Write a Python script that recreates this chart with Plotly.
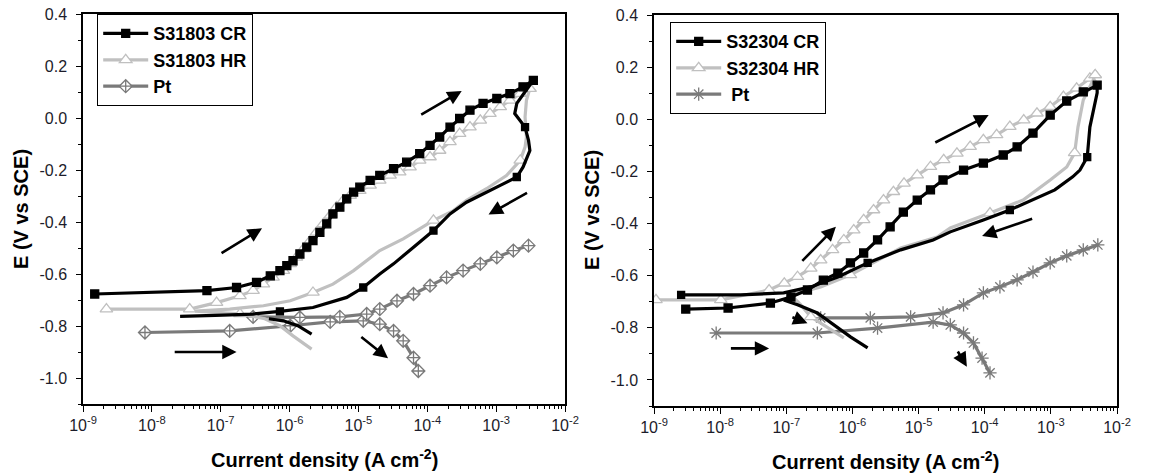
import plotly.graph_objects as go

# ---------------- data (current density stored as log10(i / A cm^-2), E in V vs SCE) ----------------
# Left panel : S31803
L_CR_FWD_LOGI = [-8.83, -7.20, -6.77, -6.48, -6.28, -6.14, -6.04, -5.95, -5.85, -5.75, -5.66, -5.56, -5.46, -5.37,
                 -5.27, -5.17, -5.07, -4.98, -4.83, -4.69, -4.49, -4.30, -4.11, -3.96, -3.82, -3.67, -3.53, -3.38,
                 -3.19, -2.99, -2.80, -2.61, -2.46]
L_CR_FWD_E = [-0.677, -0.664, -0.652, -0.632, -0.607, -0.587, -0.568, -0.549, -0.523, -0.497, -0.472, -0.440, -0.407,
              -0.369, -0.343, -0.311, -0.285, -0.266, -0.240, -0.221, -0.195, -0.170, -0.137, -0.105, -0.073, -0.035,
              -0.002, 0.030, 0.056, 0.075, 0.094, 0.120, 0.145]
L_CR_REV_LOGI = [-2.46, -2.70, -2.73, -2.58, -2.53, -2.51, -2.61, -2.70, -2.94, -3.43, -3.67, -3.91, -4.20, -4.49,
                 -4.69, -4.93, -5.17, -5.41, -5.66, -6.14, -6.53, -7.08, -7.59]
L_CR_REV_E = [0.145, 0.056, 0.017, -0.035, -0.086, -0.125, -0.189, -0.227, -0.259, -0.324, -0.369, -0.433, -0.497,
              -0.561, -0.600, -0.652, -0.690, -0.710, -0.729, -0.744, -0.754, -0.759, -0.763]
L_CR_CATH_LOGI = [-6.30, -6.09, -5.88, -5.68]
L_CR_CATH_E = [-0.772, -0.780, -0.799, -0.831]

L_HR_FWD_LOGI = [-8.66, -7.45, -7.06, -6.72, -6.53, -6.38, -6.24, -6.09, -5.99, -5.90, -5.80, -5.70, -5.61, -5.51,
                 -5.41, -5.32, -5.22, -5.12, -4.98, -4.83, -4.69, -4.54, -4.40, -4.25, -4.11, -3.96, -3.82, -3.67,
                 -3.53, -3.38, -3.23, -3.09, -2.94, -2.80, -2.65, -2.51]
L_HR_FWD_E = [-0.735, -0.735, -0.710, -0.684, -0.664, -0.639, -0.613, -0.587, -0.561, -0.536, -0.504, -0.472, -0.440,
              -0.407, -0.375, -0.343, -0.317, -0.298, -0.279, -0.259, -0.240, -0.221, -0.208, -0.189, -0.163, -0.150,
              -0.125, -0.092, -0.060, -0.035, -0.009, 0.017, 0.043, 0.068, 0.094, 0.113]
L_HR_REV_LOGI = [-2.51, -2.56, -2.58, -2.56, -2.58, -2.65, -2.85, -3.14, -3.43, -3.62, -3.91, -4.35, -4.69, -5.07,
                 -5.37, -5.66, -5.99, -6.38, -6.87, -7.37, -6.72, -6.36, -6.14, -5.95, -5.68]
L_HR_REV_E = [0.113, 0.068, 0.004, -0.073, -0.112, -0.163, -0.221, -0.272, -0.317, -0.356, -0.394, -0.465, -0.510,
              -0.587, -0.639, -0.671, -0.703, -0.722, -0.735, -0.743, -0.753, -0.772, -0.799, -0.838, -0.889]

L_PT_A_LOGI = [-8.10, -6.87, -5.99, -5.41, -4.93, -4.69, -4.49, -4.35, -4.20, -4.13]
L_PT_A_E = [-0.825, -0.819, -0.799, -0.784, -0.780, -0.793, -0.819, -0.857, -0.922, -0.973]
L_PT_B_LOGI = [-6.53, -5.85, -5.27, -4.88, -4.69, -4.44, -4.20, -3.96, -3.72, -3.48, -3.23, -2.99, -2.75, -2.53]
L_PT_B_E = [-0.765, -0.767, -0.765, -0.754, -0.735, -0.703, -0.677, -0.645, -0.613, -0.587, -0.561, -0.536, -0.510,
            -0.491]

# Right panel : S32304
R_CR_FWD_LOGI = [-8.52, -7.88, -7.24, -6.93, -6.68, -6.44, -6.22, -6.03, -5.83, -5.62, -5.43, -5.23, -5.02, -4.82,
                 -4.63, -4.32, -4.02, -3.72, -3.51, -3.27, -3.01, -2.76, -2.51, -2.30]
R_CR_FWD_E = [-0.728, -0.724, -0.705, -0.682, -0.655, -0.617, -0.590, -0.551, -0.513, -0.463, -0.413, -0.356, -0.310,
              -0.271, -0.233, -0.195, -0.168, -0.137, -0.106, -0.053, 0.016, 0.070, 0.105, 0.131]
R_CR_REV_LOGI = [-2.30, -2.30, -2.41, -2.45, -2.56, -2.67, -2.94, -3.27, -3.62, -4.02, -4.52, -4.78, -5.27, -5.77,
                 -6.22, -6.63, -7.04, -7.69, -8.59]
R_CR_REV_E = [0.131, 0.101, -0.030, -0.145, -0.195, -0.221, -0.271, -0.310, -0.348, -0.386, -0.432, -0.463, -0.501,
              -0.551, -0.605, -0.643, -0.666, -0.674, -0.674]
R_CR_CATH_LOGI = [-7.04, -6.83, -6.53, -6.33, -6.03, -5.77]
R_CR_CATH_E = [-0.693, -0.712, -0.743, -0.781, -0.835, -0.877]

R_HR_FWD_LOGI = [-8.97, -7.99, -7.26, -7.03, -6.83, -6.63, -6.48, -6.30, -6.13, -5.98, -5.83, -5.68, -5.53, -5.38,
                 -5.22, -5.02, -4.82, -4.62, -4.42, -4.22, -4.02, -3.82, -3.62, -3.41, -3.21, -3.01, -2.81, -2.61,
                 -2.41, -2.33]
R_HR_FWD_E = [-0.693, -0.693, -0.655, -0.629, -0.604, -0.572, -0.540, -0.501, -0.463, -0.425, -0.386, -0.348, -0.310,
              -0.278, -0.246, -0.214, -0.182, -0.156, -0.131, -0.105, -0.079, -0.060, -0.028, -0.003, 0.023, 0.048,
              0.087, 0.119, 0.157, 0.170]
R_HR_REV_LOGI = [-2.33, -2.36, -2.51, -2.59, -2.64, -2.76, -3.01, -3.42, -3.92, -4.52, -4.72, -5.27, -6.03, -6.48,
                 -6.93, -6.78, -6.63, -6.41, -6.13]
R_HR_REV_E = [0.170, 0.151, 0.074, -0.030, -0.129, -0.183, -0.233, -0.310, -0.360, -0.417, -0.452, -0.494, -0.597,
              -0.643, -0.674, -0.712, -0.758, -0.793, -0.839]

R_PT_A_LOGI = [-8.06, -6.53, -5.62, -4.78, -4.52, -4.32, -4.17, -4.04, -3.92]
R_PT_A_E = [-0.820, -0.820, -0.801, -0.778, -0.789, -0.820, -0.858, -0.916, -0.973]
R_PT_B_LOGI = [-6.48, -5.73, -5.12, -4.63, -4.32, -4.02, -3.77, -3.51, -3.27, -3.01, -2.76, -2.51, -2.29]
R_PT_B_E = [-0.762, -0.762, -0.758, -0.743, -0.712, -0.666, -0.643, -0.616, -0.586, -0.551, -0.524, -0.501, -0.482]

# scan-direction arrows (tail -> head)
L_ARROW_TAIL_LOGI = [-4.11, -2.53, -7.01, -7.69, -4.98]
L_ARROW_TAIL_E = [0.010, -0.285, -0.523, -0.900, -0.838]
L_ARROW_HEAD_LOGI = [-3.50, -3.11, -6.40, -6.77, -4.57]
L_ARROW_HEAD_E = [0.104, -0.371, -0.424, -0.900, -0.924]
R_ARROW_TAIL_LOGI = [-4.77, -3.26, -6.78, -7.86, -6.93, -4.42]
R_ARROW_TAIL_E = [-0.092, -0.380, -0.549, -0.879, -0.757, -0.885]
R_ARROW_HEAD_LOGI = [-3.94, -4.04, -6.25, -7.26, -6.68, -4.27]
R_ARROW_HEAD_E = [0.016, -0.448, -0.412, -0.879, -0.783, -0.949]

X_TICK_EXP = [-9, -8, -7, -6, -5, -4, -3, -2]
Y_TICKS = [-1.0, -0.8, -0.6, -0.4, -0.2, 0.0, 0.2, 0.4]
Y_TICK_TEXT = ['-1.0', '-0.8', '-0.6', '-0.4', '-0.2', '0.0', '0.2', '0.4']

LEFT_NAMES = ['S31803 CR', 'S31803 HR', 'Pt']
RIGHT_NAMES = ['S32304 CR', 'S32304 HR', ' Pt']

# ---------------- styling ----------------
BLACK = '#000000'
LIGHT = '#c0c0c0'
DARK = '#7a7a7a'
FONT = 'Arial'
W, H = 1162, 475

fig = go.Figure()


def add(xa, ya, legend, logi, e, name, color, symbol, msize, fill, show, rank, width=3.2, maxd=0, mlw=1.3):
    assert len(logi) == len(e)
    fig.add_trace(go.Scatter(
        x=[10 ** v for v in logi], y=e, name=name, mode='lines+markers',
        xaxis=xa, yaxis=ya, legend=legend, legendgroup=legend + name,
        showlegend=show, legendrank=rank, hoverinfo='skip',
        line=dict(color=color, width=width),
        marker=dict(symbol=symbol, size=msize, color=fill, maxdisplayed=maxd,
                    line=dict(color=color, width=mlw)),
    ))


# Left panel (draw Pt, then HR, then CR on top)
add('x', 'y', 'legend', L_PT_A_LOGI, L_PT_A_E, LEFT_NAMES[2], DARK, 'diamond-cross', 10, 'white', True, 3)
add('x', 'y', 'legend', L_PT_B_LOGI, L_PT_B_E, LEFT_NAMES[2], DARK, 'diamond-cross', 10, 'white', False, 3)
add('x', 'y', 'legend', L_HR_FWD_LOGI, L_HR_FWD_E, LEFT_NAMES[1], LIGHT, 'triangle-up', 11, 'white', True, 2)
add('x', 'y', 'legend', L_HR_REV_LOGI, L_HR_REV_E, LEFT_NAMES[1], LIGHT, 'triangle-up', 11, 'white', False, 2, maxd=6)
add('x', 'y', 'legend', L_CR_FWD_LOGI, L_CR_FWD_E, LEFT_NAMES[0], BLACK, 'square', 8, BLACK, True, 1)
add('x', 'y', 'legend', L_CR_REV_LOGI, L_CR_REV_E, LEFT_NAMES[0], BLACK, 'square', 7, BLACK, False, 1, maxd=6)
add('x', 'y', 'legend', L_CR_CATH_LOGI, L_CR_CATH_E, LEFT_NAMES[0], BLACK, 'square', 1, BLACK, False, 1, maxd=1)

# Right panel
add('x2', 'y2', 'legend2', R_PT_A_LOGI, R_PT_A_E, RIGHT_NAMES[2], DARK, 'asterisk-open', 11, DARK, True, 3)
add('x2', 'y2', 'legend2', R_PT_B_LOGI, R_PT_B_E, RIGHT_NAMES[2], DARK, 'asterisk-open', 11, DARK, False, 3)
add('x2', 'y2', 'legend2', R_HR_FWD_LOGI, R_HR_FWD_E, RIGHT_NAMES[1], LIGHT, 'triangle-up', 11, 'white', True, 2)
add('x2', 'y2', 'legend2', R_HR_REV_LOGI, R_HR_REV_E, RIGHT_NAMES[1], LIGHT, 'triangle-up', 11, 'white', False, 2, maxd=5)
add('x2', 'y2', 'legend2', R_CR_FWD_LOGI, R_CR_FWD_E, RIGHT_NAMES[0], BLACK, 'square', 8, BLACK, True, 1)
add('x2', 'y2', 'legend2', R_CR_REV_LOGI, R_CR_REV_E, RIGHT_NAMES[0], BLACK, 'square', 7, BLACK, False, 1, maxd=4)
add('x2', 'y2', 'legend2', R_CR_CATH_LOGI, R_CR_CATH_E, RIGHT_NAMES[0], BLACK, 'square', 1, BLACK, False, 1, maxd=1)

# arrows
for tl, te, hl, he in zip(L_ARROW_TAIL_LOGI, L_ARROW_TAIL_E, L_ARROW_HEAD_LOGI, L_ARROW_HEAD_E):
    fig.add_annotation(x=hl, y=he, ax=tl, ay=te, xref='x', yref='y', axref='x', ayref='y', text='',
                       showarrow=True, arrowhead=2, arrowsize=1.1, arrowwidth=2.6, arrowcolor='black', standoff=0)
for tl, te, hl, he in zip(R_ARROW_TAIL_LOGI, R_ARROW_TAIL_E, R_ARROW_HEAD_LOGI, R_ARROW_HEAD_E):
    fig.add_annotation(x=hl, y=he, ax=tl, ay=te, xref='x2', yref='y2', axref='x2', ayref='y2', text='',
                       showarrow=True, arrowhead=2, arrowsize=1.1, arrowwidth=2.6, arrowcolor='black', standoff=0)


def xaxis_style(domain, anchor):
    return dict(
        domain=domain, anchor=anchor, type='log', range=[-9, -2], automargin=False,
        tickmode='array', tickvals=[10 ** k for k in X_TICK_EXP],
        ticktext=['10<sup>%d</sup>' % k for k in X_TICK_EXP],
        ticks='outside', ticklen=6, tickwidth=1.3, tickcolor='black',
        minor=dict(ticks='outside', ticklen=3, tickwidth=1, tickcolor='black', dtick='D1'),
        showline=True, linecolor='black', linewidth=1.5, mirror=True,
        showgrid=False, zeroline=False, tickfont=dict(family=FONT, size=16, color='#1c1c2a'),
    )


def yaxis_style(domain, anchor):
    return dict(
        domain=domain, anchor=anchor, range=[-1.1, 0.4], automargin=False,
        tickmode='array', tickvals=Y_TICKS, ticktext=Y_TICK_TEXT,
        ticks='outside', ticklen=5, tickwidth=1.3, tickcolor='black',
        minor=dict(ticks='outside', ticklen=3, tickwidth=1, tickcolor='black', dtick=0.1, tick0=0),
        showline=True, linecolor='black', linewidth=1.5, mirror=True,
        showgrid=False, zeroline=False, tickfont=dict(family=FONT, size=16, color='#1c1c2a'),
        ticklabelstandoff=6,
    )


L_X0, L_X1, L_Y0, L_Y1 = 83, 565, 14, 404
R_X0, R_X1, R_Y0, R_Y1 = 654, 1117, 15, 406

legend_font = dict(family=FONT, size=18, color='black', weight='bold')
fig.update_layout(
    width=W, height=H, margin=dict(l=0, r=0, t=0, b=0, autoexpand=False),
    paper_bgcolor='white', plot_bgcolor='white',
    xaxis=xaxis_style([L_X0 / W, L_X1 / W], 'y'),
    yaxis=yaxis_style([1 - L_Y1 / H, 1 - L_Y0 / H], 'x'),
    xaxis2=xaxis_style([R_X0 / W, R_X1 / W], 'y2'),
    yaxis2=yaxis_style([1 - R_Y1 / H, 1 - R_Y0 / H], 'x2'),
    legend=dict(x=97 / W, y=1 - 14 / H, xanchor='left', yanchor='top', bgcolor='white',
                bordercolor='black', borderwidth=1.2, tracegroupgap=0, itemwidth=45, font=legend_font),
    legend2=dict(x=670 / W, y=1 - 22 / H, xanchor='left', yanchor='top', bgcolor='white',
                 bordercolor='black', borderwidth=1.2, tracegroupgap=0, itemwidth=45, font=legend_font),
    showlegend=True,
)

title_font = dict(family=FONT, size=20, color='black')
fig.add_annotation(x=(L_X0 + L_X1) / 2 / W, y=1 - 458 / H, xref='paper', yref='paper', showarrow=False,
                   text='<b>Current density (A cm<sup>-2</sup>)</b>', font=title_font, xanchor='center', yanchor='middle')
fig.add_annotation(x=(R_X0 + R_X1) / 2 / W, y=1 - 460 / H, xref='paper', yref='paper', showarrow=False,
                   text='<b>Current density (A cm<sup>-2</sup>)</b>', font=title_font, xanchor='center', yanchor='middle')
fig.add_annotation(x=21 / W, y=1 - 209 / H, xref='paper', yref='paper', showarrow=False, textangle=-90,
                   text='<b>E (V vs SCE)</b>', font=title_font, xanchor='center', yanchor='middle')
fig.add_annotation(x=592 / W, y=1 - 210 / H, xref='paper', yref='paper', showarrow=False, textangle=-90,
                   text='<b>E (V vs SCE)</b>', font=title_font, xanchor='center', yanchor='middle')

fig.write_html('out.html', config={'displayModeBar': False},
               post_script="document.body.style.margin='0';document.body.style.overflow='hidden';")
